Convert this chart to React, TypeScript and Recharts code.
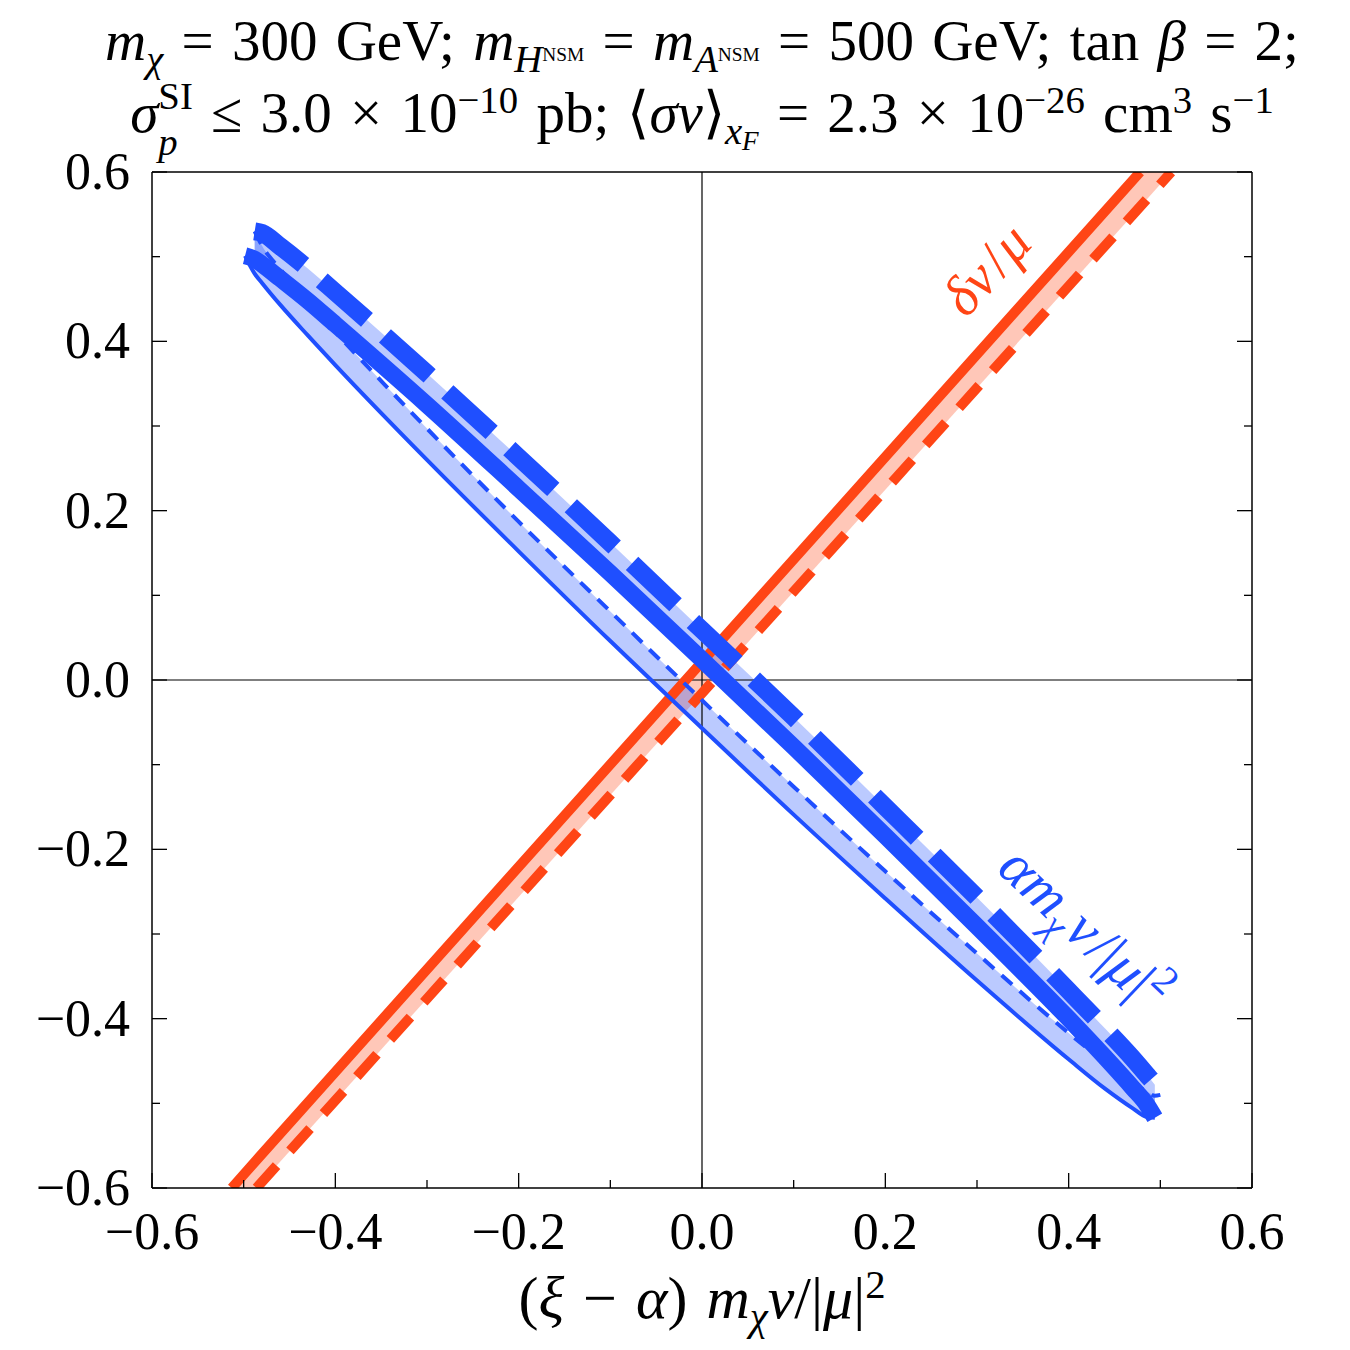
import React from "react"
import {
  ComposedChart,
  Line,
  Area,
  XAxis,
  YAxis,
  ReferenceLine,
  ReferenceDot,
} from "recharts"

const FONT = "'Liberation Serif', 'Times New Roman', serif"
const BLUE = "#1f4fff"
const RED = "#ff4515"

// axis ticks
const axisTicks = [-0.6, -0.5, -0.4, -0.3, -0.2, -0.1, 0, 0.1, 0.2, 0.3, 0.4, 0.5, 0.6]
const majorTicks = [-0.6, -0.4, -0.2, 0, 0.2, 0.4, 0.6]

// blue ellipses on a shared x grid
const ellipseX = [-0.4985, -0.488, -0.48, -0.46, -0.43, -0.4, -0.3, -0.2, -0.1, 0, 0.1, 0.2, 0.3, 0.4, 0.44, 0.47, 0.485, 0.494, 0.5]
const solidUpper = [0.501, 0.497, 0.491, 0.474, 0.448, 0.42, 0.325, 0.226, 0.126, 0.024, -0.079, -0.184, -0.291, -0.4, -0.446, -0.482, -0.501, -0.517, null]
const solidLower = [0.501, 0.48, 0.469, 0.443, 0.407, 0.372, 0.26, 0.152, 0.046, -0.057, -0.159, -0.258, -0.355, -0.448, -0.483, -0.506, -0.516, -0.517, null]
const dashedUpper = [null, 0.53, 0.528, 0.512, 0.486, 0.458, 0.362, 0.263, 0.162, 0.059, -0.044, -0.15, -0.257, -0.367, -0.412, -0.447, -0.466, -0.478, -0.49]
const dashedLower = [null, 0.53, 0.513, 0.485, 0.447, 0.411, 0.297, 0.187, 0.081, -0.024, -0.126, -0.226, -0.323, -0.417, -0.452, -0.476, -0.486, -0.491, -0.49]

// red band (delta v / mu)
const redX = [-0.513, -0.486, 0.478, 0.512]
const redSolid = [-0.6, -0.567, 0.6, null]
const redDashed = [null, -0.6, 0.559, 0.6]

const curve = (xs: number[], ys: (number | null)[]) =>
  xs.map((x, i) => ({ x, y: ys[i] })).filter((d) => d.y !== null)

const band = (xs: number[], a: (number | null)[], b: (number | null)[]) =>
  xs
    .map((x, i) => ({ x, y: [a[i], b[i]] }))
    .filter((d) => d.y[0] !== null && d.y[1] !== null)

const redBand = redX.map((x, i) => ({
  x,
  y: [redDashed[i] ?? -0.6, redSolid[i] ?? 0.6],
}))

const fmt = (v: number) => {
  const s = Math.abs(v).toFixed(1)
  return v < 0 ? "\u2212" + s : s
}
const isMajor = (v: number) => majorTicks.includes(v)

const BottomTick = ({ x, y, payload }: any) => {
  const major = isMajor(payload.value)
  return (
    <g>
      <line x1={x} x2={x} y1={y} y2={y - (major ? 15 : 8)} stroke="#000" strokeWidth={1.3} />
      {major && (
        <text x={x} y={y + 61} textAnchor="middle" fontSize={52} fontFamily={FONT} fill="#000">
          {fmt(payload.value)}
        </text>
      )}
    </g>
  )
}

const TopTick = ({ x, y, payload }: any) => {
  const major = isMajor(payload.value)
  return <line x1={x} x2={x} y1={y} y2={y + (major ? 15 : 8)} stroke="#000" strokeWidth={1.3} />
}

const LeftTick = ({ x, y, payload }: any) => {
  const major = isMajor(payload.value)
  return (
    <g>
      <line x1={x} x2={x + (major ? 15 : 8)} y1={y} y2={y} stroke="#000" strokeWidth={1.3} />
      {major && (
        <text x={x - 22} y={y + 17} textAnchor="end" fontSize={52} fontFamily={FONT} fill="#000">
          {fmt(payload.value)}
        </text>
      )}
    </g>
  )
}

const RightTick = ({ x, y, payload }: any) => {
  const major = isMajor(payload.value)
  return <line x1={x} x2={x - (major ? 15 : 8)} y1={y} y2={y} stroke="#000" strokeWidth={1.3} />
}

const rotLabel = (angle: number, color: string, size: number, body: React.ReactNode) => (props: any) => {
  const vb = props.viewBox
  const cx = vb.x + vb.width / 2
  const cy = vb.y + vb.height / 2
  return (
    <text
      x={cx}
      y={cy}
      transform={`rotate(${angle} ${cx} ${cy})`}
      textAnchor="middle"
      fontSize={size}
      fontFamily={FONT}
      fill={color}
    >
      {body}
    </text>
  )
}

const deltaLabel = rotLabel(
  -47.5,
  RED,
  56,
  <>
    <tspan fontStyle="italic">δv</tspan>
    <tspan dx={4}>/</tspan>
    <tspan fontStyle="italic" dx={2}>μ</tspan>
  </>
)

const alphaLabel = rotLabel(
  43.5,
  BLUE,
  58,
  <>
    <tspan fontStyle="italic">αm</tspan>
    <tspan fontStyle="italic" fontSize={40} dy={12}>χ</tspan>
    <tspan fontStyle="italic" dy={-12} dx={2}>v</tspan>
    <tspan dx={3}>/|</tspan>
    <tspan fontStyle="italic">μ</tspan>
    <tspan>|</tspan>
    <tspan fontSize={40} dy={-24}>2</tspan>
  </>
)

const Sub = ({ children }: any) => (
  <span style={{ fontSize: "0.68em", position: "relative", top: "0.3em" }}>{children}</span>
)
const Sup = ({ children }: any) => (
  <span style={{ fontSize: "0.68em", position: "relative", top: "-0.5em" }}>{children}</span>
)
const SmallSup = ({ children }: any) => (
  <span style={{ fontSize: "0.5em", position: "relative", top: "-0.55em" }}>{children}</span>
)

const centred = {
  position: "absolute" as const,
  left: 0,
  width: 1350,
  boxSizing: "border-box" as const,
  paddingLeft: 54,
  textAlign: "center" as const,
  whiteSpace: "nowrap" as const,
  wordSpacing: 4,
}

const titleLine = { ...centred, fontSize: 57, lineHeight: "57px" }

export default function App() {
  return (
    <div
      style={{
        position: "absolute",
        left: 0,
        top: 0,
        width: 1350,
        height: 1350,
        background: "#fff",
        fontFamily: FONT,
      }}
    >
      <div style={{ ...titleLine, top: 12 }}>
        <i>m</i>
        <Sub>
          <i>χ</i>
        </Sub>{" "}
        = 300 GeV; <i>m</i>
        <Sub>
          <i>H</i>
          <SmallSup>NSM</SmallSup>
        </Sub>{" "}
        = <i>m</i>
        <Sub>
          <i>A</i>
          <SmallSup>NSM</SmallSup>
        </Sub>{" "}
        = 500 GeV; tan <i>β</i> = 2;
      </div>
      <div style={{ ...titleLine, top: 84 }}>
        <i>σ</i>
        <span style={{ position: "relative", display: "inline-block", fontSize: "0.68em" }}>
          <span style={{ position: "relative", top: "-0.6em" }}>SI</span>
          <span style={{ position: "absolute", left: 0, top: "0.6em" }}>
            <i>p</i>
          </span>
        </span>{" "}
        ≤ 3.0 × 10<Sup>−10</Sup> pb; ⟨<i>σv</i>⟩
        <Sub>
          <i>x</i>
          <span style={{ fontSize: "0.7em", position: "relative", top: "0.25em" }}>
            <i>F</i>
          </span>
        </Sub>{" "}
        = 2.3 × 10<Sup>−26</Sup> cm<Sup>3</Sup> s<Sup>−1</Sup>
      </div>

      <div style={{ position: "absolute", left: 0, top: 0 }}>
        <ComposedChart
          width={1350}
          height={1350}
          margin={{ top: 162, right: 88, bottom: 102, left: 52 }}
        >
          <XAxis
            type="number"
            dataKey="x"
            domain={[-0.6, 0.6]}
            ticks={axisTicks}
            allowDataOverflow
            height={60}
            tickSize={0}
            tickMargin={0}
            tickLine={false}
            tick={BottomTick}
            interval={0}
            stroke="#000"
            strokeWidth={1.5}
          />
          <XAxis
            xAxisId="top"
            orientation="top"
            type="number"
            domain={[-0.6, 0.6]}
            ticks={axisTicks}
            allowDataOverflow
            height={10}
            tickSize={0}
            tickMargin={0}
            tickLine={false}
            tick={TopTick}
            interval={0}
            stroke="#000"
            strokeWidth={1.5}
          />
          <YAxis
            type="number"
            domain={[-0.6, 0.6]}
            ticks={axisTicks}
            allowDataOverflow
            width={100}
            tickSize={0}
            tickMargin={0}
            tickLine={false}
            tick={LeftTick}
            interval={0}
            stroke="#000"
            strokeWidth={1.5}
          />
          <YAxis
            yAxisId="right"
            orientation="right"
            type="number"
            domain={[-0.6, 0.6]}
            ticks={axisTicks}
            allowDataOverflow
            width={10}
            tickSize={0}
            tickMargin={0}
            tickLine={false}
            tick={RightTick}
            interval={0}
            stroke="#000"
            strokeWidth={1.5}
          />

          <ReferenceLine x={0} stroke="#000" strokeWidth={1.2} strokeOpacity={1} />
          <ReferenceLine y={0} stroke="#000" strokeWidth={1.2} strokeOpacity={1} />

          {/* red band */}
          <Area
            data={redBand}
            dataKey="y"
            type="linear"
            stroke="none"
            fill={RED}
            fillOpacity={0.3}
            isAnimationActive={false}
          />
          <Line
            data={curve(redX, redSolid)}
            dataKey="y"
            type="linear"
            stroke={RED}
            strokeWidth={10}
            dot={false}
            isAnimationActive={false}
          />
          <Line
            data={curve(redX, redDashed)}
            dataKey="y"
            type="linear"
            stroke={RED}
            strokeWidth={10}
            strokeDasharray="30 20"
            dot={false}
            isAnimationActive={false}
          />

          {/* blue bands */}
          <Area
            data={band(ellipseX, solidUpper, dashedUpper)}
            dataKey="y"
            type="monotone"
            stroke="none"
            fill={BLUE}
            fillOpacity={0.3}
            isAnimationActive={false}
          />
          <Area
            data={band(ellipseX, solidLower, dashedLower)}
            dataKey="y"
            type="monotone"
            stroke="none"
            fill={BLUE}
            fillOpacity={0.3}
            isAnimationActive={false}
          />
          <Line
            data={curve(ellipseX, solidLower)}
            dataKey="y"
            type="monotone"
            stroke={BLUE}
            strokeWidth={4}
            dot={false}
            isAnimationActive={false}
          />
          <Line
            data={curve(ellipseX, dashedLower)}
            dataKey="y"
            type="monotone"
            stroke={BLUE}
            strokeWidth={4}
            strokeDasharray="14 10"
            dot={false}
            isAnimationActive={false}
          />
          <Line
            data={curve(ellipseX, solidUpper)}
            dataKey="y"
            type="monotone"
            stroke={BLUE}
            strokeWidth={17}
            dot={false}
            isAnimationActive={false}
          />
          <Line
            data={curve(ellipseX, dashedUpper)}
            dataKey="y"
            type="monotone"
            stroke={BLUE}
            strokeWidth={18}
            strokeDasharray="60 24"
            dot={false}
            isAnimationActive={false}
          />

          <ReferenceDot x={0.325} y={0.47} r={1} fill="none" stroke="none" label={{ content: deltaLabel }} />
          <ReferenceDot x={0.403} y={-0.31} r={1} fill="none" stroke="none" label={{ content: alphaLabel }} />
        </ComposedChart>
      </div>

      <div style={{ ...centred, top: 1268, fontSize: 60, lineHeight: "60px" }}>
        (<i>ξ</i> − <i>α</i>) <i>m</i>
        <Sub>
          <i>χ</i>
        </Sub>
        <i>v</i>/|<i>μ</i>|<Sup>2</Sup>
      </div>
    </div>
  )
}
